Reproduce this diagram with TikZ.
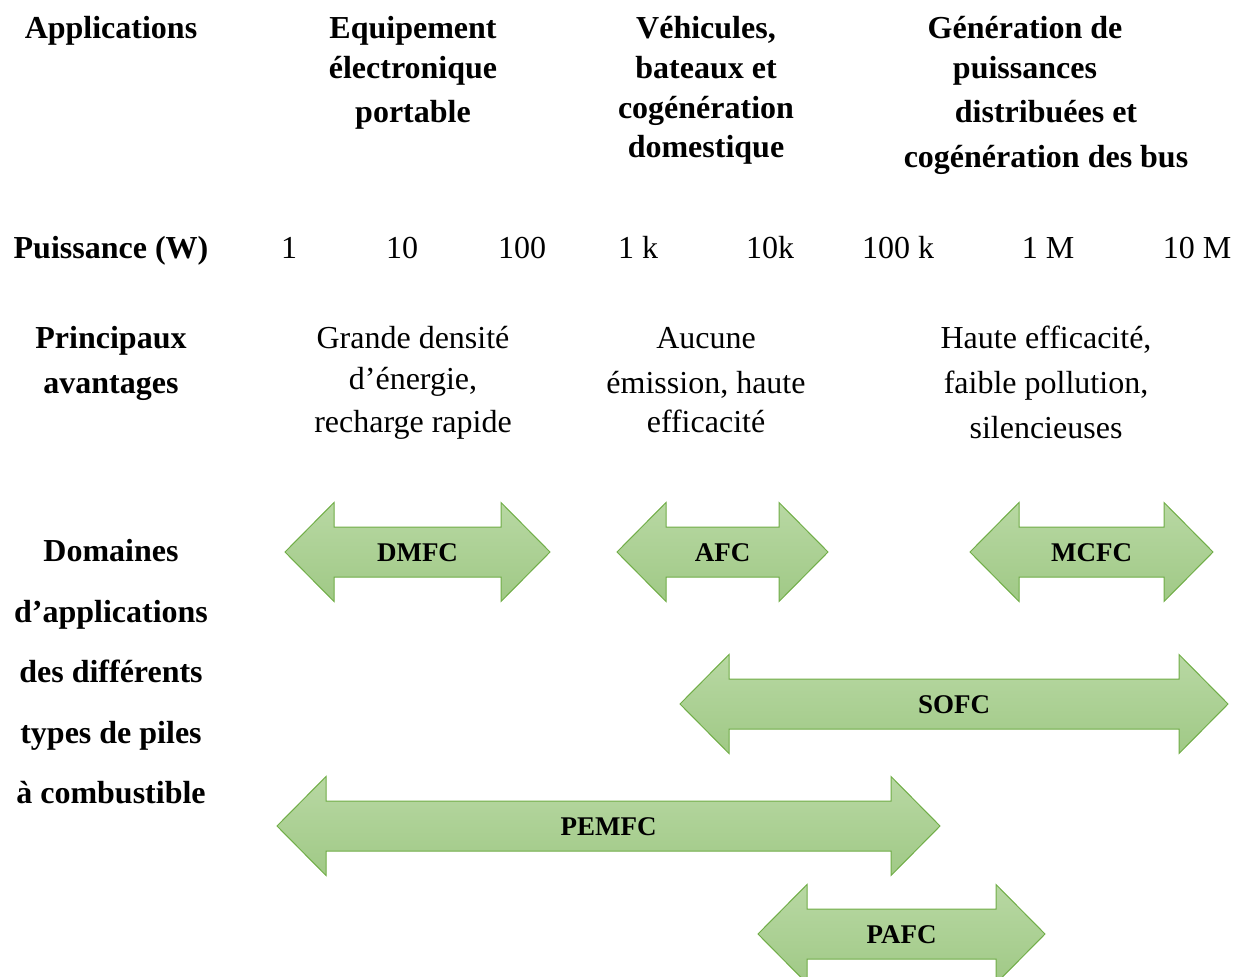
\documentclass[tikz,border=0pt]{standalone}
\usepackage{fontspec}
\setmainfont{Liberation Serif}
\tikzset{
  hdr/.style={font=\fontsize{32}{40}\selectfont\bfseries, anchor=base, inner sep=0pt},
  txt/.style={font=\fontsize{32}{40}\selectfont, anchor=base, inner sep=0pt},
  lab/.style={font=\fontsize{27}{30}\selectfont\bfseries, inner sep=0pt},
  fcarrow/.style={draw={rgb,255:red,112;green,173;blue,71}, line width=1pt,
    top color={rgb,255:red,184;green,216;blue,163}, bottom color={rgb,255:red,160;green,201;blue,134}, line join=miter}
}
\newcommand\fcarr[5]{%
  \path[fcarrow] (#1,#3) -- ({#1+49},{#3-49.5}) -- ({#1+49},{#3-25}) -- ({#2-49},{#3-25}) -- ({#2-49},{#3-49.5}) -- (#2,#3)
   -- ({#2-49},{#3+49.5}) -- ({#2-49},{#3+25}) -- ({#1+49},{#3+25}) -- ({#1+49},{#3+49.5}) -- cycle;
  \node[lab] (#5) at ({(#1+#2)/2},{#3+1}) {#4};}
\begin{document}
\begin{tikzpicture}[x=1pt,y=-1pt]
\useasboundingbox (0,0) rectangle (1242,977);
% column 1
\node[hdr] (app) at (111,38) {Applications};
\node[hdr] (pw) at (111,258) {Puissance (W)};
\node[hdr] (pr1) at (111,348) {Principaux};
\node[hdr] (pr2) at (111,393) {avantages};
\node[hdr] (d1) at (111,561) {Domaines};
\node[hdr] (d2) at (111,622) {d’applications};
\node[hdr] (d3) at (111,682) {des différents};
\node[hdr] (d4) at (111,743) {types de piles};
\node[hdr] (d5) at (111,803) {à combustible};
% applications
\node[hdr] (a11) at (413,38) {Equipement};
\node[hdr] (a12) at (413,78) {électronique};
\node[hdr] (a13) at (413,122) {portable};
\node[hdr] (a21) at (706,38) {Véhicules,};
\node[hdr] (a22) at (706,78) {bateaux et};
\node[hdr] (a23) at (706,118) {cogénération};
\node[hdr] (a24) at (706,157) {domestique};
\node[hdr] (a31) at (1025,38) {Génération de};
\node[hdr] (a32) at (1025,78) {puissances};
\node[hdr] (a33) at (1046,122) {distribuées et};
\node[hdr] (a34) at (1046,167) {cogénération des bus};
% power
\node[txt] (p1) at (289,258) {1};
\node[txt] (p2) at (402,258) {10};
\node[txt] (p3) at (522,258) {100};
\node[txt] (p4) at (638,258) {1 k};
\node[txt] (p5) at (770,258) {10k};
\node[txt] (p6) at (898,258) {100 k};
\node[txt] (p7) at (1048,258) {1 M};
\node[txt] (p8) at (1197,258) {10 M};
% advantages
\node[txt] (v11) at (413,348) {Grande densité};
\node[txt] (v12) at (413,389) {d’énergie,};
\node[txt] (v13) at (413,432) {recharge rapide};
\node[txt] (v21) at (706,348) {Aucune};
\node[txt] (v22) at (706,393) {émission, haute};
\node[txt] (v23) at (706,432) {efficacité};
\node[txt] (v31) at (1046,348) {Haute efficacité,};
\node[txt] (v32) at (1046,393) {faible pollution,};
\node[txt] (v33) at (1046,438) {silencieuses};
% arrows
\fcarr{285}{550}{552}{DMFC}{dmfc}
\fcarr{617}{828}{552}{AFC}{afc}
\fcarr{970}{1213}{552}{MCFC}{mcfc}
\fcarr{680}{1228}{704}{SOFC}{sofc}
\fcarr{277}{940}{826}{PEMFC}{pemfc}
\fcarr{758}{1045}{934}{PAFC}{pafc}
\end{tikzpicture}
\end{document}
